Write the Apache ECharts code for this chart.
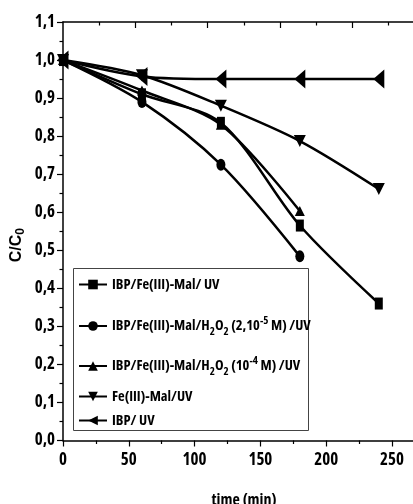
<!DOCTYPE html>
<html>
<head>
<meta charset="utf-8">
<script src="https://cdn.jsdelivr.net/npm/echarts@6/dist/echarts.min.js"></script>
<style>
html,body{margin:0;padding:0;background:#fff;}
#c{width:413px;height:504px;}
</style>
</head>
<body>
<div id="c"></div>
<script>
var timeMin = [0, 60, 120, 180, 240];
var sqVals = [1.0, 0.91, 0.835, 0.565, 0.36];
var ciVals = [1.0, 0.89, 0.725, 0.484];
var trUpVals = [1.0, 0.92, 0.83, 0.603];
var trDnVals = [1.0, 0.96, 0.88, 0.787, 0.661];
var trLtVals = [1.0, 0.957, 0.95, 0.95, 0.95];
var yTicks = [0, 0.1, 0.2, 0.3, 0.4, 0.5, 0.6, 0.7, 0.8, 0.9, 1.0, 1.1];
var xTicks = [0, 50, 100, 150, 200, 250];
var xMinorTicks = [25, 75, 125, 175, 225];
var seriesNames = [
  'IBP/Fe(III)-Mal/ UV',
  'IBP/Fe(III)-Mal/H2O2 (2,10-5 M) /UV',
  'IBP/Fe(III)-Mal/H2O2 (10-4 M) /UV',
  'Fe(III)-Mal/UV',
  'IBP/ UV'
];
var legendLabels = [
  '{n|IBP/Fe(III)-Mal/ UV}',
  '{n|IBP/Fe(III)-Mal/H}{sub|2}{n|O}{sub|2}{n| (2,10}{sup|-5}{n| M) /UV}',
  '{n|IBP/Fe(III)-Mal/H}{sub|2}{n|O}{sub|2}{n| (10}{sup|-4}{n| M) /UV}',
  '{n|Fe(III)-Mal/UV}',
  '{n|IBP/ UV}'
];

function pairs(vals){ return vals.map(function(v,i){ return [timeMin[i], v]; }); }

var FONT = "'Open Sans'";
var COND = 'condensed';
var rich = {
  n: {fontFamily: FONT, fontStyle: COND, fontWeight: 'bold', fontSize: 14.5, color: '#000', lineHeight: 22, verticalAlign: 'middle'},
  sub: {fontFamily: FONT, fontStyle: COND, fontWeight: 'bold', fontSize: 11, color: '#000', lineHeight: 22, verticalAlign: 'bottom', padding: [11, 0, 0, 0]},
  sup: {fontFamily: FONT, fontStyle: COND, fontWeight: 'bold', fontSize: 11, color: '#000', lineHeight: 22, verticalAlign: 'top', padding: [0, 0, 9, 0]}
};

var symbols = [
  {symbol: 'rect', size: [8, 12], rot: 0},
  {symbol: 'circle', size: [9, 12], rot: 0},
  {symbol: 'triangle', size: [10, 10], rot: 0},
  {symbol: 'triangle', size: [12, 12], rot: 180},
  {symbol: 'triangle', size: [19, 11], rot: 90}
];
var dataSets = [sqVals, ciVals, trUpVals, trDnVals, trLtVals];
var legendCenters = [284, 322, 362, 396, 420];

var series = dataSets.map(function(vals, i){
  return {
    name: seriesNames[i],
    type: 'line',
    xAxisIndex: 0,
    yAxisIndex: 0,
    data: pairs(vals),
    smooth: 0.3,
    symbol: symbols[i].symbol,
    symbolSize: symbols[i].size,
    symbolRotate: symbols[i].rot,
    showAllSymbol: true,
    lineStyle: {color: '#000', width: 2.5},
    itemStyle: {color: '#000'},
    z: 3
  };
});

var legends = seriesNames.map(function(nm, i){
  return {
    data: [nm],
    left: 78,
    top: legendCenters[i] - 7,
    padding: 0,
    itemWidth: 28,
    itemHeight: 12,
    itemGap: 0,
    selectedMode: false,
    formatter: function(){ return legendLabels[i]; },
    textStyle: {rich: rich, padding: [0,0,0,0]}
  };
});

var tickLabelStyle = {fontFamily: FONT, fontStyle: COND, fontWeight: 'bold', fontSize: 17, color: '#000'};

var chart = echarts.init(document.getElementById('c'), null, {renderer: 'canvas'});
chart.setOption({
  animation: false,
  backgroundColor: '#fff',
  grid: {left: 63, right: 0, top: 22, bottom: 63.5, containLabel: false, outerBoundsMode: 'none'},
  legend: legends,
  graphic: [{
    type: 'rect',
    shape: {x: 73.5, y: 268.5, width: 235, height: 162},
    style: {fill: 'none', stroke: '#444', lineWidth: 1},
    z: 1
  }],
  xAxis: [
    {
      type: 'value', position: 'bottom', min: 0, max: 266,
      name: 'time (min)', nameLocation: 'middle', nameGap: 52,
      nameTextStyle: {fontFamily: FONT, fontStyle: COND, fontWeight: 'bold', fontSize: 16, color: '#000', padding: [0, 0, 0, 12]},
      axisLine: {show: true, onZero: false, lineStyle: {color: '#000', width: 1.5}},
      axisTick: {show: true, customValues: xTicks, length: 6, lineStyle: {color: '#000', width: 1.2}},
      axisLabel: {show: true, customValues: xTicks, margin: 11, formatter: function(v){ return String(v); }, textStyle: tickLabelStyle},
      splitLine: {show: false}
    },
    {
      type: 'value', position: 'bottom', min: 0, max: 266,
      axisLine: {show: false},
      axisTick: {show: true, customValues: xMinorTicks, length: 3.5, lineStyle: {color: '#000', width: 1.2}},
      axisLabel: {show: false},
      splitLine: {show: false}
    },
    {
      type: 'value', position: 'top', min: 0, max: 4.84,
      axisLine: {show: true, lineStyle: {color: '#000', width: 1.5}},
      axisTick: {show: true, inside: true, customValues: [1, 2, 3, 4], length: 6, lineStyle: {color: '#000', width: 1.2}},
      axisLabel: {show: false},
      splitLine: {show: false}
    },
    {
      type: 'value', position: 'top', min: 0, max: 4.84,
      axisLine: {show: false},
      axisTick: {show: true, inside: true, customValues: [0.5, 1.5, 2.5, 3.5, 4.5], length: 3.5, lineStyle: {color: '#000', width: 1.2}},
      axisLabel: {show: false},
      splitLine: {show: false}
    }
  ],
  yAxis: [{
    type: 'value', min: 0, max: 1.1, interval: 0.1,
    name: 'C/C{s|0}', nameLocation: 'middle', nameGap: 36, nameRotate: 90, nameMoveOverlap: false,
    nameTextStyle: {fontFamily: "'Liberation Sans'", fontWeight: 'bold', fontSize: 16, color: '#000', padding: [0, 28, 0, 0],
      rich: {s: {fontFamily: "'Liberation Sans'", fontWeight: 'bold', fontSize: 12, color: '#000', verticalAlign: 'bottom', padding: [8, 0, 0, 0]}}},
    axisLine: {show: true, onZero: false, lineStyle: {color: '#000', width: 1.5}},
    axisTick: {show: true, length: 6, lineStyle: {color: '#000', width: 1.2}},
    minorTick: {show: true, splitNumber: 2, length: 3.5, lineStyle: {color: '#000', width: 1.2}},
    axisLabel: {margin: 8, formatter: function(v){ return v.toFixed(1).replace('.', ','); }, textStyle: tickLabelStyle},
    splitLine: {show: false}
  }],
  series: series
});
</script>
</body>
</html>
